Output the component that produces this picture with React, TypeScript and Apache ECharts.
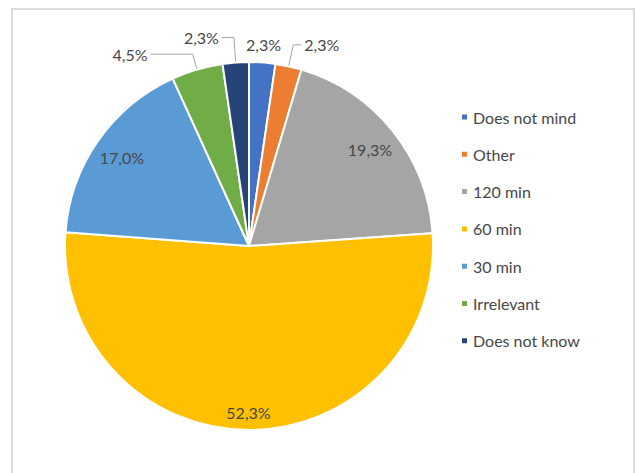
import React, { useEffect, useRef } from "react";
import * as echarts from "echarts";

const categories = ["Does not mind", "Other", "120 min", "60 min", "30 min", "Irrelevant", "Does not know"];
const shares = [2.3, 2.3, 19.3, 52.3, 17.0, 4.5, 2.3];
const colors = ["#4472C4", "#ED7D31", "#A5A5A5", "#FFC000", "#5B9BD5", "#70AD47", "#264478"];

const TEXT = "#474747";
const FONT = "Lato, 'Open Sans', sans-serif";

const fmt = (p: any) => Number(p.value).toFixed(1).replace(".", ",") + "%";

// label arrangement styles per category (outer leader lines)
const outerLine: Record<string, { length: number; length2: number }> = {
  Other: { length: 22, length2: 8 },
  "Does not know": { length: 25, length2: 12 },
  Irrelevant: { length: 16, length2: 42 },
};

const CENTER = ["249", "246"];

function overlay(radius: [number, number], shown: string[]) {
  return {
    type: "pie",
    silent: true,
    center: CENTER,
    radius,
    startAngle: 90,
    clockwise: true,
    avoidLabelOverlap: false,
    emphasis: { disabled: true },
    itemStyle: { color: "transparent", borderWidth: 0 },
    labelLine: { show: false },
    label: {
      show: true,
      position: "inside",
      formatter: fmt,
      color: TEXT,
      fontSize: 16,
      fontFamily: FONT,
    },
    data: categories.map((name, i) => ({
      name,
      value: shares[i],
      label: { show: shown.includes(name) },
    })),
  };
}

export default function App() {
  const ref = useRef<HTMLDivElement>(null);
  useEffect(() => {
    document.body.style.margin = "0";
    if (!ref.current) return;
    const chart = echarts.init(ref.current, undefined, { renderer: "svg" });
    chart.setOption({
      animation: false,
      backgroundColor: "#ffffff",
      graphic: [
        {
          type: "rect",
          shape: { x: 12, y: 9, width: 622, height: 500 },
          style: { fill: "none", stroke: "#dcdcdc", lineWidth: 2 },
          silent: true,
        },
      ],
      legend: {
        orient: "vertical",
        left: 455,
        top: 103,
        data: categories,
        icon: "rect",
        itemWidth: 7,
        itemHeight: 7,
        itemGap: 19.3,
        itemTextGap: 6,
        textStyle: { color: TEXT, fontSize: 16, fontFamily: FONT, lineHeight: 18 },
        selectedMode: false,
      },
      series: [
        {
          type: "pie",
          center: CENTER,
          radius: 184,
          startAngle: 90,
          clockwise: true,
          avoidLabelOverlap: false,
          emphasis: { disabled: true },
          itemStyle: { borderColor: "#ffffff", borderWidth: 2 },
          label: {
            position: "outside",
            formatter: fmt,
            color: TEXT,
            fontSize: 16,
            fontFamily: FONT,
            distanceToLabelLine: 3,
          },
          labelLine: { lineStyle: { color: "#a6a6a6", width: 1 }, smooth: false },
          data: categories.map((name, i) => {
            const ol = outerLine[name];
            return {
              name,
              value: shares[i],
              itemStyle: { color: colors[i] },
              label: { show: !!ol },
              labelLine: ol ? { show: true, length: ol.length, length2: ol.length2 } : { show: false },
            };
          }),
        },
        overlay([140, 164], ["120 min", "30 min"]),
        overlay([150, 178], ["60 min"]),
        overlay([190, 208], ["Does not mind"]),
      ],
    });
    return () => chart.dispose();
  }, []);
  return <div ref={ref} style={{ width: 635, height: 473 }} />;
}
